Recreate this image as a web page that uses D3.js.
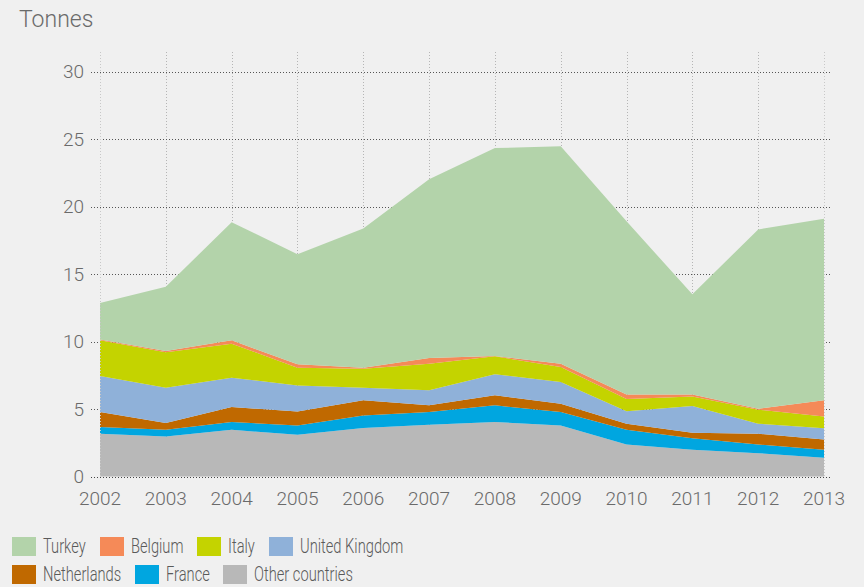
<!DOCTYPE html>
<html>
<head>
<meta charset="utf-8">
<script src="https://cdn.jsdelivr.net/npm/d3@7"></script>
<style>
	body { margin: 0; background: #f0f0f0; }
	svg { display: block; }
	.tick-label { font-family: Roboto, "Liberation Sans", sans-serif; font-weight: 300; fill: #6a6a6a; }
	.legend-label { font-family: Roboto, "Liberation Sans", sans-serif; font-weight: 300; fill: #5a5a5a; }
</style>
</head>
<body>
<div id="chart"></div>
<script>
	// Years and tonnes per country (stacked, bottom to top)
	var years = [2002, 2003, 2004, 2005, 2006, 2007, 2008, 2009, 2010, 2011, 2012, 2013];
	var otherCountries = [3.17, 2.97, 3.46, 3.09, 3.59, 3.83, 4.03, 3.78, 2.37, 1.98, 1.73, 1.39];
	var france = [0.49, 0.49, 0.57, 0.69, 0.93, 0.94, 1.24, 0.99, 1.09, 0.86, 0.64, 0.59];
	var netherlands = [1.11, 0.50, 1.11, 1.04, 1.12, 0.50, 0.74, 0.62, 0.45, 0.40, 0.80, 0.76];
	var unitedKingdom = [2.67, 2.62, 2.18, 1.93, 0.94, 1.11, 1.56, 1.61, 0.93, 1.98, 0.74, 0.84];
	var italy = [2.65, 2.62, 2.52, 1.31, 1.41, 1.98, 1.33, 1.11, 0.90, 0.71, 1.04, 0.87];
	var belgium = [0.05, 0.10, 0.25, 0.25, 0.07, 0.42, 0.03, 0.25, 0.34, 0.15, 0.07, 1.19];
	var turkey = [2.72, 4.75, 8.75, 8.16, 10.31, 13.23, 15.40, 16.10, 12.82, 7.42, 13.28, 13.45];
	var yTicks = [0, 5, 10, 15, 20, 25, 30];

	var series = [
		{name: 'Other countries', values: otherCountries, color: '#b8b8b8'},
		{name: 'France', values: france, color: '#00a6e0'},
		{name: 'Netherlands', values: netherlands, color: '#c06900'},
		{name: 'United Kingdom', values: unitedKingdom, color: '#8fb1d9'},
		{name: 'Italy', values: italy, color: '#c4d300'},
		{name: 'Belgium', values: belgium, color: '#f58a58'},
		{name: 'Turkey', values: turkey, color: '#b3d3aa'}
	];
	var legendOrder = ['Turkey', 'Belgium', 'Italy', 'United Kingdom', 'Netherlands', 'France', 'Other countries'];

	var width = 864, height = 587;
	var margin = {top: 71, right: 40, bottom: 111, left: 100};

	var svg = d3.select('#chart').append('svg')
		.attr('width', width)
		.attr('height', height);

	var x = d3.scaleLinear()
		.domain([years[0], years[years.length - 1]])
		.range([margin.left, width - margin.right]);
	var y = d3.scaleLinear()
		.domain([0, 30])
		.range([height - margin.bottom + 0.5, margin.top + 0.5]);

	// Title
	svg.append('text')
		.attr('class', 'tick-label')
		.attr('x', 19)
		.attr('y', 27)
		.style('font-size', '23px')
		.text('Tonnes');

	// Vertical grid (light dotted)
	svg.append('g')
		.selectAll('line')
		.data(years)
		.join('line')
		.attr('x1', function (d) { return Math.round(x(d)) + 0.5; })
		.attr('x2', function (d) { return Math.round(x(d)) + 0.5; })
		.attr('y1', 52)
		.attr('y2', y(0))
		.attr('stroke', '#b5b5b5')
		.attr('stroke-dasharray', '1,2');

	// Horizontal grid (dark dotted)
	svg.append('g')
		.selectAll('line')
		.data(yTicks)
		.join('line')
		.attr('x1', 91)
		.attr('x2', 831)
		.attr('y1', function (d) { return Math.round(y(d)) + 0.5; })
		.attr('y2', function (d) { return Math.round(y(d)) + 0.5; })
		.attr('stroke', '#555')
		.attr('stroke-dasharray', '1,2');

	// Stack
	var table = years.map(function (yr, i) {
		var row = {year: yr};
		series.forEach(function (s) { row[s.name] = s.values[i]; });
		return row;
	});
	var stack = d3.stack().keys(series.map(function (s) { return s.name; }));
	var layers = stack(table);

	var area = d3.area()
		.x(function (d) { return x(d.data.year); })
		.y0(function (d) { return y(d[0]); })
		.y1(function (d) { return y(d[1]); });

	svg.append('g')
		.selectAll('path')
		.data(layers)
		.join('path')
		.attr('d', area)
		.attr('fill', function (d, i) { return series[i].color; });

	// Edge verticals and baseline drawn over the areas
	svg.append('g')
		.selectAll('line')
		.data([years[0], years[years.length - 1]])
		.join('line')
		.attr('x1', function (d) { return Math.round(x(d)) + 0.5; })
		.attr('x2', function (d) { return Math.round(x(d)) + 0.5; })
		.attr('y1', 52)
		.attr('y2', y(0))
		.attr('stroke', '#c8c8c8')
		.attr('stroke-dasharray', '1,2');
	svg.append('line')
		.attr('x1', 91)
		.attr('x2', 831)
		.attr('y1', Math.round(y(0)) + 0.5)
		.attr('y2', Math.round(y(0)) + 0.5)
		.attr('stroke', '#444')
		.attr('stroke-dasharray', '1,2');

	// Y tick labels
	svg.append('g')
		.selectAll('text')
		.data(yTicks)
		.join('text')
		.attr('class', 'tick-label')
		.attr('x', 84)
		.attr('y', function (d) { return y(d); })
		.attr('dy', '0.35em')
		.attr('text-anchor', 'end')
		.style('font-size', '19px')
		.text(function (d) { return d; });

	// X tick labels
	svg.append('g')
		.selectAll('text')
		.data(years)
		.join('text')
		.attr('class', 'tick-label')
		.attr('x', function (d) { return x(d); })
		.attr('y', 505)
		.attr('text-anchor', 'middle')
		.style('font-size', '19px')
		.text(function (d) { return d; });

	// Legend
	var legendPos = {
		'Turkey': [12, 537], 'Belgium': [100, 537], 'Italy': [197, 537], 'United Kingdom': [269, 537],
		'Netherlands': [12, 565], 'France': [135, 565], 'Other countries': [223, 565]
	};
	var legend = svg.append('g')
		.selectAll('g')
		.data(legendOrder)
		.join('g')
		.attr('transform', function (d) { return 'translate(' + legendPos[d][0] + ',' + legendPos[d][1] + ')'; });

	legend.append('rect')
		.attr('width', 24)
		.attr('height', 19)
		.attr('fill', function (d) {
			return series.find(function (s) { return s.name === d; }).color;
		});

	// condensed look: squeeze the label horizontally
	legend.append('text')
		.attr('class', 'legend-label')
		.attr('transform', 'translate(31,16) scale(0.7,1)')
		.style('font-size', '21px')
		.text(function (d) { return d; });
</script>
</body>
</html>
